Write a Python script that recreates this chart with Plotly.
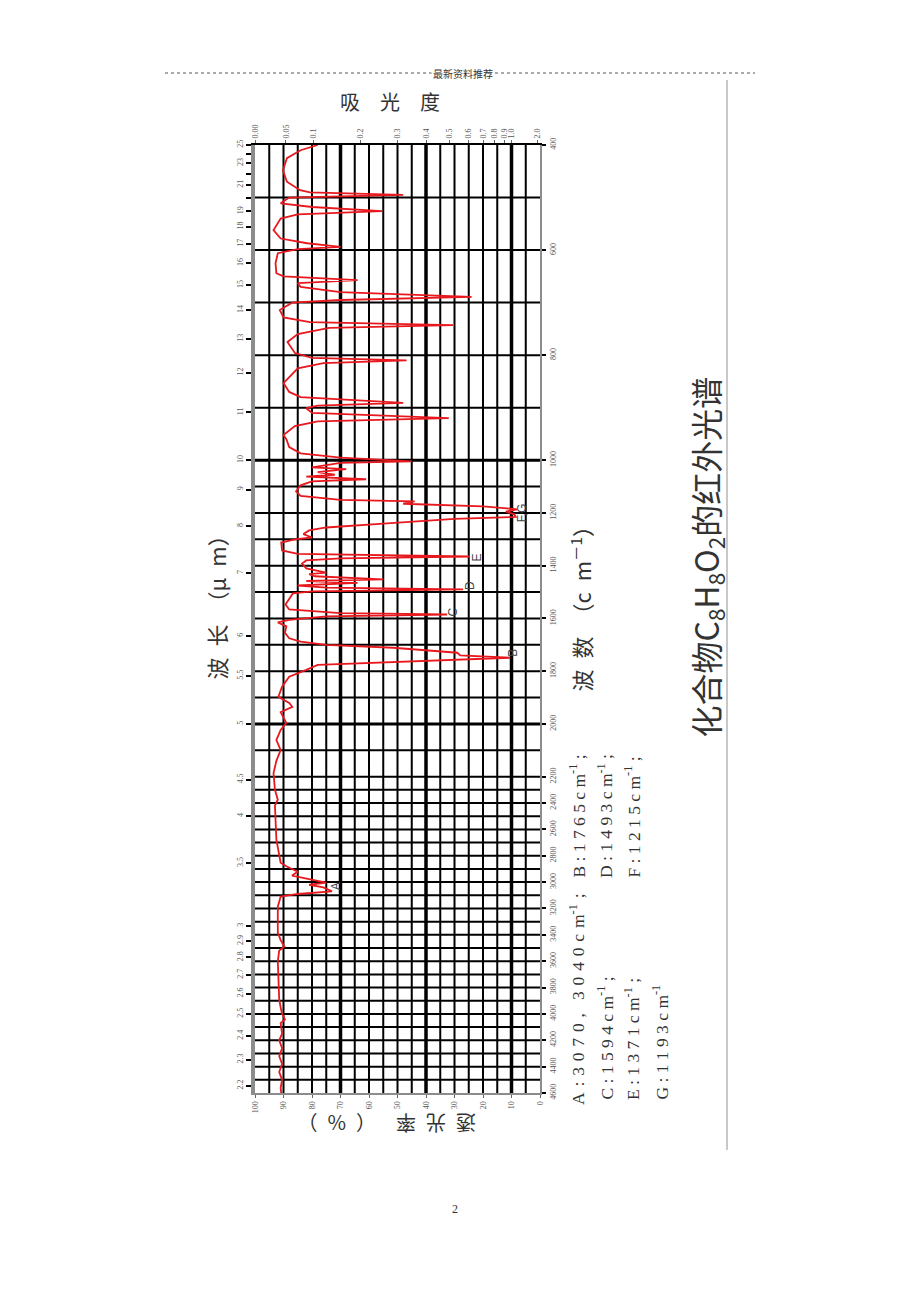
import numpy as np
import plotly.graph_objects as go

# ---------------- data ----------------
wavenumber = [400, 410, 425, 448, 470, 486, 490, 495, 500, 511, 518, 526, 532, 540, 562, 578, 587, 594,
              598, 606, 625, 644, 650, 657, 663, 670, 680, 689, 695, 700, 714, 728, 737, 743, 748, 760,
              775, 796, 805, 810, 815, 825, 853, 870, 880, 891, 896, 901, 910, 920, 926, 935, 952, 960,
              975, 987, 995, 1004, 1010, 1020, 1027, 1034, 1045, 1055, 1062, 1072, 1080, 1095, 1118, 1135,
              1150, 1156, 1165, 1175, 1186, 1195, 1205, 1215, 1222, 1240, 1255, 1266, 1280, 1293, 1300,
              1312, 1342, 1355, 1365, 1372, 1380, 1392, 1410, 1426, 1432, 1440, 1452, 1458, 1465, 1475,
              1483, 1490, 1497, 1505, 1525, 1547, 1566, 1580, 1585, 1592, 1605, 1615, 1630, 1654, 1675,
              1688, 1700, 1711, 1730, 1740, 1749, 1758, 1776, 1795, 1821, 1859, 1897, 1920, 1935, 1955,
              1996, 2023, 2061, 2099, 2140, 2186, 2300, 2375, 2420, 2678, 2777, 2853, 2880, 2921, 2950,
              3004, 3020, 3040, 3070, 3090, 3110, 3186, 3383, 3440, 3489, 3520, 3600, 3891, 3950, 4000,
              4042, 4070, 4150, 4200, 4260, 4320, 4380, 4440, 4500, 4560, 4600]
transmittance = [78, 84, 88.8, 90.2, 88.8, 84.2, 80.7, 48, 88, 91, 80, 55.4, 85, 91, 93.5, 91, 81.7, 70,
                 85, 92, 92.8, 92.5, 90, 64, 85, 84, 70, 24, 70, 87, 91.3, 90, 80.7, 30.5, 74, 85,
                 88.6, 86, 80, 46.8, 76, 85, 90, 88, 84, 48, 78, 82, 80, 32, 78, 86, 90, 89,
                 88, 84, 70, 45, 70, 76, 80, 68, 78, 72, 82, 61, 80, 84, 85.6, 84,
                 70, 44, 48, 20, 8, 12, 9, 8.5, 30, 55, 75, 81, 83, 80, 86,
                 90.8, 90.5, 85, 24.6, 70, 82, 83.5, 82, 75, 81, 79, 55, 82, 64, 85,
                 75, 27, 80, 86.7, 88, 89.3, 88, 70, 32.6, 75, 88, 92, 89, 89.5, 88,
                 84, 75, 51.5, 29, 28, 10.5, 35, 78, 82, 88, 90.5, 91.8, 88, 86.9, 91,
                 89, 91, 92.5, 91, 92.5, 93.5, 93, 92, 93, 92.5, 91.8, 91, 89, 85, 87,
                 75, 81, 76, 73, 85, 91, 92, 92, 91, 89.7, 91.5, 92, 91.5, 91, 90.5,
                 89.5, 91, 90.5, 91.5, 90.5, 91.5, 90.5, 91.5, 90.5, 91, 90.8]

peak_labels = ["A", "B", "C", "D", "E", "F,G"]
peak_label_wn = [3030, 1730, 1577, 1474, 1368, 1201]
peak_label_t = [71.5, 9.5, 30.5, 24.6, 22.0, 6.3]

wn_ticks = [400, 600, 800, 1000, 1200, 1400, 1600, 1800, 2000, 2200, 2400, 2600, 2800, 3000,
            3200, 3400, 3600, 3800, 4000, 4200, 4400, 4600]
um_ticks = [25, 24, 23, 22, 21, 20, 19, 18, 17, 16, 15, 14, 13, 12, 11, 10, 9, 8, 7, 6, 5.5, 5,
            4.5, 4, 3.5, 3, 2.9, 2.8, 2.7, 2.6, 2.5, 2.4, 2.3, 2.2]
um_tick_text = ["25", "", "23", "", "21", "", "19", "18", "17", "16", "15", "14", "13", "12", "11",
                "10", "9", "8", "7", "6", "5.5", "5", "4.5", "4", "3.5", "3", "2.9", "2.8", "2.7",
                "2.6", "2.5", "2.4", "2.3", "2.2"]
t_ticks = [100, 90, 80, 70, 60, 50, 40, 30, 20, 10, 0]
abs_ticks = [0.0, 0.05, 0.1, 0.2, 0.3, 0.4, 0.5, 0.6, 0.7, 0.8, 0.9, 1.0, 2.0]
abs_text = ["0.00", "0.05", "0.1", "0.2", "0.3", "0.4", "0.5", "0.6", "0.7", "0.8", "0.9", "1.0", "2.0"]

grid_wn = list(range(500, 4600, 100))
grid_t = list(range(5, 100, 5))
bold_t = [70, 40, 10]


# chart's piecewise-linear wavenumber scale (400-1000 : 1000-2200 : 2200-4600 = 4 : 2 : 1)
def wn_to_y(w):
    w = np.asarray(w, dtype=float)
    return np.where(w <= 1000, (w - 400) * 0.525,
                    np.where(w <= 2200, 315 + (w - 1000) * 0.2635, 631.2 + (w - 2200) * 0.1317))


Y_MAX = float(wn_to_y(4600))

# page layout (page pixels); the html body adds an 8px margin
OFF = 8
L, R, T, B = 255, 540, 145, 1093
FIG_W, FIG_H = 900, 1280


def px(x):
    return (x - L) / (R - L)


def py(y):
    return (B - y) / (B - T)


fig = go.Figure()

shapes = []
for w in grid_wn:
    yv = float(wn_to_y(w))
    shapes.append(dict(type="line", xref="paper", yref="y", x0=0, x1=1, y0=yv, y1=yv,
                       line=dict(color="black", width=3 if w in (1000, 2000) else 2), layer="below"))
for t in grid_t:
    shapes.append(dict(type="line", xref="x", yref="paper", x0=t, x1=t, y0=0, y1=1,
                       line=dict(color="black", width=3.5 if t in bold_t else 2), layer="below"))

shapes.append(dict(type="line", xref="paper", yref="paper", x0=px(165), x1=px(755), y0=py(73), y1=py(73),
                   line=dict(color="#555", width=1, dash="dot")))
shapes.append(dict(type="line", xref="paper", yref="paper", x0=px(727), x1=px(727), y0=py(80), y1=py(1150),
                   line=dict(color="#c8c8c8", width=2)))

fig.add_trace(go.Scatter(x=transmittance, y=wn_to_y(wavenumber), mode="lines",
                         line=dict(color="#e8191e", width=1.8), showlegend=False, hoverinfo="skip"))
fig.add_trace(go.Scatter(x=[None], y=[None], xaxis="x2", yaxis="y", showlegend=False))
fig.add_trace(go.Scatter(x=[None], y=[None], xaxis="x", yaxis="y2", showlegend=False))

tickfont = dict(family="Liberation Serif", size=8, color="#555")

annotations = []
for lab, w, t in zip(peak_labels, peak_label_wn, peak_label_t):
    annotations.append(dict(x=t, y=float(wn_to_y(w)), xref="x", yref="y", text=lab, showarrow=False,
                            textangle=-90, font=dict(family="Liberation Sans", size=12, color="#444")))

cjk = "Noto Sans CJK SC"
annotations += [
    dict(x=px(495), y=py(64), xref="paper", yref="paper", text="最新资料推荐", showarrow=False,
         bgcolor="white", font=dict(family=cjk, size=10, color="#333")),
    dict(x=px(390), y=py(85), xref="paper", yref="paper", text="吸\u2003光\u2003度", showarrow=False,
         font=dict(family=cjk, size=20, color="#333")),
    dict(x=px(215), y=py(682), xref="paper", yref="paper", text="波\u2002长\u2002（μ\u2002m）", showarrow=False,
         textangle=-90, xanchor="center", yanchor="bottom", font=dict(family=cjk, size=22, color="#333")),
    dict(x=px(580), y=py(694), xref="paper", yref="paper", text="波\u2002数\u2002（c\u2002m<sup>－1</sup>）",
         showarrow=False, textangle=-90, xanchor="center", yanchor="bottom",
         font=dict(family=cjk, size=22, color="#333")),
    dict(x=px(387), y=py(1140), xref="paper", yref="paper", text="透\u2002光\u2002率\u2003（\u2002%\u2002）",
         showarrow=False, textangle=180, font=dict(family=cjk, size=20, color="#333")),
    dict(x=px(706), y=py(740), xref="paper", yref="paper",
         text="化合物C<sub>8</sub>H<sub>8</sub>O<sub>2</sub>的红外光谱", showarrow=False, textangle=-90,
         xanchor="center", yanchor="bottom", font=dict(family=cjk, size=32, color="#333")),
    dict(x=px(460), y=py(1218), xref="paper", yref="paper", text="2", showarrow=False,
         font=dict(family="Liberation Serif", size=12, color="#333")),
]


def spaced(s, gap=" "):
    return gap.join(list(s))


wide = "\u200a "
legend_items = [
    (577, 1107, spaced("A:3070,", wide) + "\u00a0\u00a0\u00a0" + spaced("3040cm", wide) + "<sup>-1</sup>" + wide + ";"),
    (577, 880, spaced("B:1765cm") + "<sup>-1</sup> ;"),
    (605, 1102, spaced("C:1594cm") + "<sup>-1</sup> ;"),
    (605, 880, spaced("D:1493cm") + "<sup>-1</sup> ;"),
    (632, 1102, spaced("E:1371cm") + "<sup>-1</sup> ;"),
    (632, 880, spaced("F:1215cm") + "<sup>-1</sup> ;"),
    (660, 1102, spaced("G:1193cm") + "<sup>-1</sup>"),
]
for xx, yy, txt in legend_items:
    annotations.append(dict(x=px(xx), y=py(yy), xref="paper", yref="paper", text=txt, showarrow=False,
                            textangle=-90, xanchor="center", yanchor="bottom",
                            font=dict(family="Liberation Serif", size=17.5, color="#333")))

fig.update_layout(
    width=FIG_W, height=FIG_H,
    margin=dict(l=L - OFF, r=FIG_W - (R - OFF), t=T - OFF, b=FIG_H - (B - OFF), autoexpand=False),
    paper_bgcolor="white", plot_bgcolor="white",
    showlegend=False,
    shapes=shapes,
    annotations=annotations,
    xaxis=dict(range=[100, 0], tickmode="array", tickvals=t_ticks, ticktext=[str(v) for v in t_ticks],
               tickangle=-90, tickfont=tickfont, showgrid=False, zeroline=False, showline=True,
               linecolor="#8c8c8c", linewidth=2, ticks="outside", ticklen=3, tickcolor="#666"),
    xaxis2=dict(range=[100, 0], overlaying="x", side="top", tickmode="array",
                tickvals=[100 * 10 ** (-a) for a in abs_ticks], ticktext=abs_text, tickangle=-90,
                tickfont=tickfont, showgrid=False, zeroline=False, showline=True, linecolor="black",
                linewidth=2, ticks="outside", ticklen=3, tickcolor="#666"),
    yaxis=dict(range=[Y_MAX, 0], tickmode="array", tickvals=wn_to_y([10000 / u for u in um_ticks]).tolist(),
               ticktext=um_tick_text, tickangle=-90, tickfont=tickfont, showgrid=False, zeroline=False,
               showline=True, linecolor="#8c8c8c", linewidth=4, ticks="outside", ticklen=5, tickwidth=2,
               tickcolor="black"),
    yaxis2=dict(range=[Y_MAX, 0], overlaying="y", side="right", tickmode="array",
                tickvals=wn_to_y(wn_ticks).tolist(), ticktext=[str(v) for v in wn_ticks], tickangle=-90,
                tickfont=tickfont, showgrid=False, zeroline=False, showline=True, linecolor="#8c8c8c",
                linewidth=2, ticks="outside", ticklen=4, tickwidth=2, tickcolor="black"),
)

fig.write_html("out.html")
